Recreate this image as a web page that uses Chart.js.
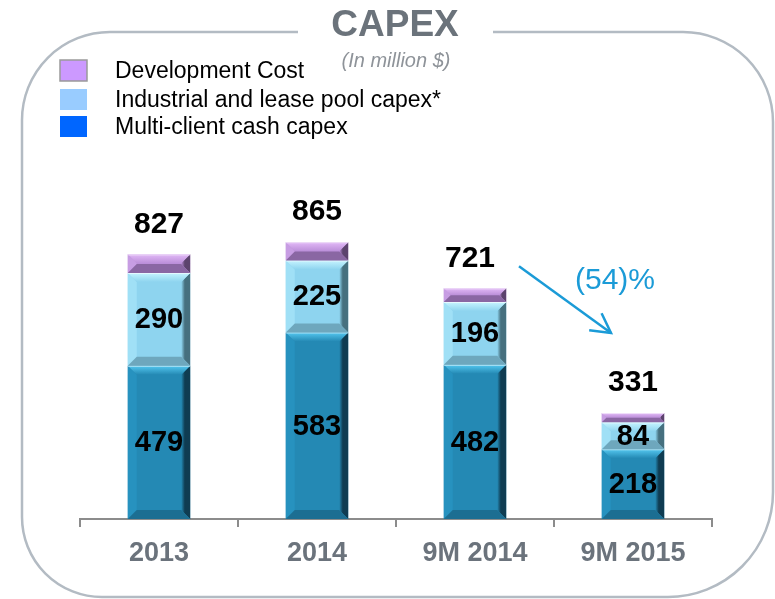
<!DOCTYPE html>
<html>
<head>
<meta charset="utf-8">
<script src="https://cdn.jsdelivr.net/npm/chart.js@4.4.1/dist/chart.umd.min.js"></script>
<style>
html,body{margin:0;padding:0;background:#fff;}
#wrap{width:775px;height:599px;position:relative;}
</style>
</head>
<body>
<div id="wrap"><canvas id="c" width="775" height="599"></canvas></div>
<script>
// ---- data ----
const categories = ['2013', '2014', '9M 2014', '9M 2015'];
const multiClient = [479, 583, 482, 218];
const industrialLease = [290, 225, 196, 84];
const developmentCost = [58, 57, 43, 29];
const seriesNames = ['Multi-client cash capex', 'Industrial and lease pool capex*', 'Development Cost'];
const titleText = 'CAPEX';
const subtitleText = '(In million $)';

// ---- styles ----
const faceColors = ['#2489b4', '#8ed4ef', '#bb8fd9'];
const legendColors = ['#0066ff', '#99ccff', '#cc99ff'];
const shades = [
  {top:'#55c8f0', bottom:'#1c6e92', left:'#2792bf', right:'#0f3c52'},
  {top:'#c6f4ff', bottom:'#6ea7bd', left:'#a0e0f6', right:'#46707f'},
  {top:'#e2b9f7', bottom:'#8a67a3', left:'#c79de3', right:'#5c436d'}
];
const FONT = "'Liberation Sans', Arial, sans-serif";

const totals = categories.map((_, i) => multiClient[i] + industrialLease[i] + developmentCost[i]);

function poly(ctx, pts, fill) {
  ctx.beginPath();
  ctx.moveTo(pts[0][0], pts[0][1]);
  for (let k = 1; k < pts.length; k++) ctx.lineTo(pts[k][0], pts[k][1]);
  ctx.closePath();
  ctx.fillStyle = fill;
  ctx.fill();
}

const framePlugin = {
  id: 'frame',
  beforeDraw(chart) {
    const ctx = chart.ctx;
    ctx.save();
    ctx.strokeStyle = '#b3bbc3';
    ctx.lineWidth = 2.5;
    const L = 22, T = 32, R = 773, B = 597;
    const rtl = 88, rtr = 90, rbr = 105, rbl = 80;
    ctx.beginPath();
    ctx.moveTo(298, T);
    ctx.lineTo(L + rtl, T);
    ctx.arcTo(L, T, L, T + rtl, rtl);
    ctx.lineTo(L, B - rbl);
    ctx.arcTo(L, B, L + rbl, B, rbl);
    ctx.lineTo(R - rbr, B);
    ctx.arcTo(R, B, R, B - rbr, rbr);
    ctx.lineTo(R, T + rtr);
    ctx.arcTo(R, T, R - rtr, T, rtr);
    ctx.lineTo(493, T);
    ctx.stroke();

    // title
    ctx.fillStyle = '#6b737b';
    ctx.font = 'bold 37px ' + FONT;
    ctx.textAlign = 'center';
    ctx.textBaseline = 'middle';
    ctx.fillText(titleText, 395, 26);
    ctx.fillStyle = '#8e9399';
    ctx.font = 'italic 20px ' + FONT;
    ctx.fillText(subtitleText, 396, 61);

    // legend (reverse order: Development Cost first)
    const order = [2, 1, 0];
    const ys = [70, 99, 126];
    order.forEach((si, k) => {
      const y = ys[k];
      ctx.fillStyle = legendColors[si];
      ctx.fillRect(60, y - 10, 27, 21);
      if (si === 2) {
        ctx.strokeStyle = '#9a9a9a';
        ctx.lineWidth = 1.5;
        ctx.strokeRect(60, y - 10, 27, 21);
      }
      ctx.fillStyle = '#000';
      ctx.font = '23px ' + FONT;
      ctx.textAlign = 'left';
      ctx.textBaseline = 'middle';
      ctx.fillText(chart.data.datasets[si].label, 115, y + 2);
    });
    ctx.restore();
  }
};

const bevelPlugin = {
  id: 'bevel',
  afterDatasetsDraw(chart) {
    const ctx = chart.ctx;
    ctx.save();
    chart.data.datasets.forEach((ds, i) => {
      const meta = chart.getDatasetMeta(i);
      meta.data.forEach(bar => {
        const p = bar.getProps(['x', 'y', 'base', 'width'], true);
        const l = p.x - p.width / 2, r = p.x + p.width / 2;
        const t = Math.min(p.y, p.base), b = Math.max(p.y, p.base);
        const h = b - t;
        const d = Math.min(9, h / 2);
        const c = shades[i];
        poly(ctx, [[l, t], [l + d, t + d], [l + d, b - d], [l, b]], c.left);
        const gR = ctx.createLinearGradient(r - d, 0, r, 0);
        gR.addColorStop(0, faceColors[i]);
        gR.addColorStop(0.4, c.right);
        gR.addColorStop(1, c.right);
        poly(ctx, [[r, t], [r - d, t + d], [r - d, b - d], [r, b]], gR);
        const gTop = ctx.createLinearGradient(0, t, 0, t + d);
        gTop.addColorStop(0, c.top);
        gTop.addColorStop(1, faceColors[i]);
        poly(ctx, [[l, t], [r, t], [r - d, t + d], [l + d, t + d]], gTop);
        poly(ctx, [[l, b], [r, b], [r - d, b - d], [l + d, b - d]], c.bottom);
        ctx.fillStyle = 'rgba(255,255,255,0.6)';
        ctx.fillRect(l, t, p.width, 1);
      });
    });
    ctx.restore();
  }
};

const labelPlugin = {
  id: 'labels',
  afterDraw(chart) {
    const ctx = chart.ctx;
    const xs = chart.scales.x, ys = chart.scales.y;
    ctx.save();
    ctx.fillStyle = '#000';
    ctx.textAlign = 'center';
    ctx.textBaseline = 'middle';
    // segment labels
    [0, 1].forEach(si => {
      const meta = chart.getDatasetMeta(si);
      meta.data.forEach((bar, j) => {
        const p = bar.getProps(['x', 'y', 'base'], true);
        ctx.font = 'bold 29px ' + FONT;
        ctx.fillText(String(chart.data.datasets[si].data[j]), p.x, (p.y + p.base) / 2 + 1);
      });
    });
    // totals
    totals.forEach((tot, j) => {
      ctx.font = 'bold 30px ' + FONT;
      const x = xs.getPixelForValue(j) - (j === 2 ? 5 : 0);
      ctx.fillText(String(tot), x, ys.getPixelForValue(tot) - 30);
    });
    // change arrow between last two totals
    const a = totals[2], bT = totals[3];
    const pct = Math.round((bT / a - 1) * 100);
    const x0 = xs.getPixelForValue(2) + 44, y0 = ys.getPixelForValue(a) - 22;
    const x1 = xs.getPixelForValue(3) - 22, y1 = ys.getPixelForValue(bT) - 80;
    ctx.strokeStyle = '#1b9bd7';
    ctx.lineWidth = 2.5;
    ctx.beginPath();
    ctx.moveTo(x0, y0);
    ctx.lineTo(x1, y1);
    ctx.stroke();
    const ang = Math.atan2(y1 - y0, x1 - x0);
    const hl = 22;
    ctx.beginPath();
    ctx.moveTo(x1 - hl * Math.cos(ang - 0.5), y1 - hl * Math.sin(ang - 0.5));
    ctx.lineTo(x1, y1);
    ctx.lineTo(x1 - hl * Math.cos(ang + 0.5), y1 - hl * Math.sin(ang + 0.5));
    ctx.stroke();
    ctx.fillStyle = '#1b9bd7';
    ctx.font = '30px ' + FONT;
    ctx.fillText(pct < 0 ? '(' + Math.abs(pct) + ')%' : pct + '%', 615, 281);
    ctx.restore();
  }
};

new Chart(document.getElementById('c'), {
  type: 'bar',
  data: {
    labels: categories,
    datasets: [
      {label: seriesNames[0], data: multiClient, backgroundColor: faceColors[0], borderWidth: 0},
      {label: seriesNames[1], data: industrialLease, backgroundColor: faceColors[1], borderWidth: 0},
      {label: seriesNames[2], data: developmentCost, backgroundColor: faceColors[2], borderWidth: 0}
    ]
  },
  options: {
    responsive: false,
    animation: false,
    layout: {padding: {left: 80, right: 63, top: 199, bottom: 0}},
    plugins: {legend: {display: false}, title: {display: false}, tooltip: {enabled: false}},
    datasets: {bar: {categoryPercentage: 1, barPercentage: 0.395}},
    scales: {
      x: {
        stacked: true,
        offset: true,
        grid: {display: true, drawOnChartArea: false, drawTicks: true, tickLength: 8, color: '#8c8c8c', lineWidth: 2, offset: true},
        border: {display: true, color: '#8c8c8c', width: 2},
        ticks: {font: {family: FONT, size: 27, weight: 'bold'}, color: '#6b737c', padding: 10},
        afterFit(s) { s.height = 80; }
      },
      y: {stacked: true, display: false, min: 0, max: 1000}
    }
  },
  plugins: [framePlugin, bevelPlugin, labelPlugin]
});
</script>
</body>
</html>
